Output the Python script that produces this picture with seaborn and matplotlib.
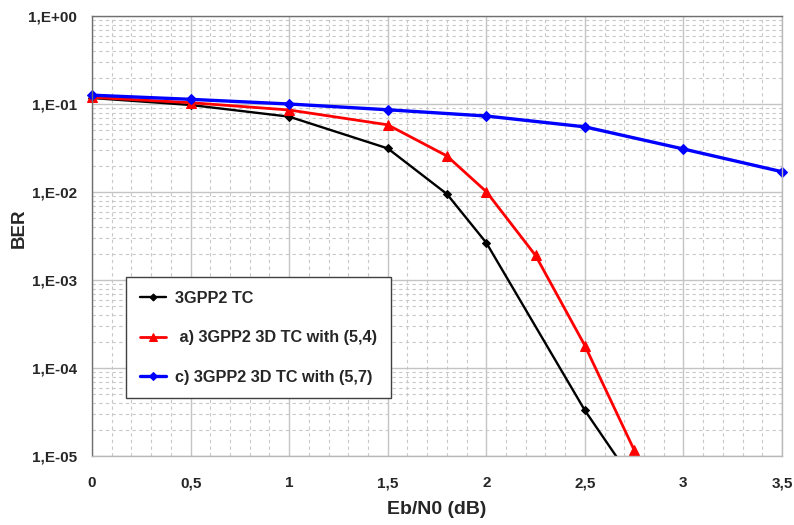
import numpy as np
import pandas as pd
import matplotlib
matplotlib.use("Agg")
import matplotlib.pyplot as plt
import matplotlib.ticker as mticker
from matplotlib.transforms import Bbox, TransformedBbox
import seaborn as sns

# ---- data ----
x_tc = [0, 0.5, 1.0, 1.5, 1.8, 2.0, 2.5, 2.75]
ber_tc = [0.117, 0.0975, 0.0718, 0.0313, 0.0095, 0.00265, 3.3e-5, 5.0e-6]

x_a = [0, 0.5, 1.0, 1.5, 1.8, 2.0, 2.25, 2.5, 2.75, 3.0]
ber_a = [0.119, 0.1035, 0.0855, 0.058, 0.0257, 0.0101, 0.0019, 1.8e-4, 1.17e-5, 8.0e-7]

x_c = [0, 0.5, 1.0, 1.5, 2.0, 2.5, 3.0, 3.5]
ber_c = [0.126, 0.113, 0.100, 0.086, 0.073, 0.055, 0.0308, 0.017]

labels = ["3GPP2 TC", " a) 3GPP2 3D TC with (5,4)", "c) 3GPP2 3D TC with (5,7)"]
x_ticks = [0, 0.5, 1, 1.5, 2, 2.5, 3, 3.5]

sns.set_style("white")
plt.rcParams["font.family"] = ["Liberation Sans", "DejaVu Sans"]

fig = plt.figure(figsize=(7.94, 5.25), dpi=100)
ax = fig.add_axes([92 / 794, 1 - 456 / 525, 690 / 794, 440 / 525])

series = [
    (x_tc, ber_tc, labels[0], "black", "D", 4.2, 1.7),
    (x_a, ber_a, labels[1], "#ff0000", "^", 6.8, 2.0),
    (x_c, ber_c, labels[2], "#0000ff", "D", 4.8, 2.4),
]
for xs, ys, lab, col, mk, ms, lw in series:
    df = pd.DataFrame({"x": xs, "y": ys})
    sns.lineplot(data=df, x="x", y="y", ax=ax, color=col, marker=mk,
                 markersize=ms, linewidth=lw, markeredgecolor=col,
                 label=lab, estimator=None, sort=False)

ax.set_yscale("log")
ax.set_xlim(0, 3.5)
ax.set_ylim(1e-5, 1)

# clip lines vertically to the axes, but allow edge markers horizontally
clip = TransformedBbox(Bbox([[-0.03, 0.0], [1.03, 1.0]]), ax.transAxes)
for ln in ax.get_lines():
    ln.set_clip_box(clip)
    ln.set_clip_path(None)

ax.set_xticks(x_ticks)
ax.xaxis.set_minor_locator(mticker.MultipleLocator(0.1))
ax.set_xticklabels([("%g" % v).replace(".", ",") for v in x_ticks])
ax.yaxis.set_major_locator(mticker.LogLocator(base=10, numticks=10))
ax.yaxis.set_minor_locator(mticker.LogLocator(base=10, subs=np.arange(2, 10), numticks=20))
ax.yaxis.set_minor_formatter(mticker.NullFormatter())
ax.yaxis.set_major_formatter(mticker.FuncFormatter(
    lambda v, p: "1,E%+03d" % int(round(np.log10(v)))))

ax.grid(which="major", color="#c4c4c4", linestyle="-", linewidth=1.0)
ax.grid(which="minor", color="#c8c8c8", linestyle=(0, (3, 3)), linewidth=0.8)
ax.set_axisbelow(True)

ax.tick_params(axis="y", which="major", direction="out", length=5, width=1,
               color="#606060", pad=6, labelsize=11)
ax.tick_params(axis="y", which="minor", length=0)
ax.tick_params(axis="x", which="both", length=0, pad=22.5, labelsize=11)
for lbl in ax.get_xticklabels():
    lbl.set_fontweight("bold")
    lbl.set_verticalalignment("baseline")
for lbl in ax.get_yticklabels():
    lbl.set_fontweight("bold")

for side in ["left", "top"]:
    ax.spines[side].set_color("#707070")
    ax.spines[side].set_linewidth(1.0)
for side in ["bottom", "right"]:
    ax.spines[side].set_color("#b8b8b8")
    ax.spines[side].set_linewidth(1.0)

ax.set_xlabel("Eb/N0 (dB)", fontsize=14, fontweight="bold")
ax.xaxis.set_label_coords(0.5, (456 - 501) / 440)
ax.set_ylabel("BER", fontsize=13.5, fontweight="bold")
ax.yaxis.set_label_coords((28 - 92) / 690, (456 - 228) / 440)

leg = ax.legend(loc="upper left", bbox_to_anchor=(126 / 794, 1 - 277 / 525),
                bbox_transform=fig.transFigure, frameon=True, fancybox=False,
                prop={"weight": "bold", "size": 11.7}, labelspacing=1.5,
                handlelength=1.6, handletextpad=0.55, borderpad=0.85,
                borderaxespad=0, markerscale=0.85)
leg.get_frame().set_edgecolor("#404040")
leg.get_frame().set_linewidth(1.0)
leg.get_frame().set_alpha(1)

fig.savefig("out.png", dpi=100)
